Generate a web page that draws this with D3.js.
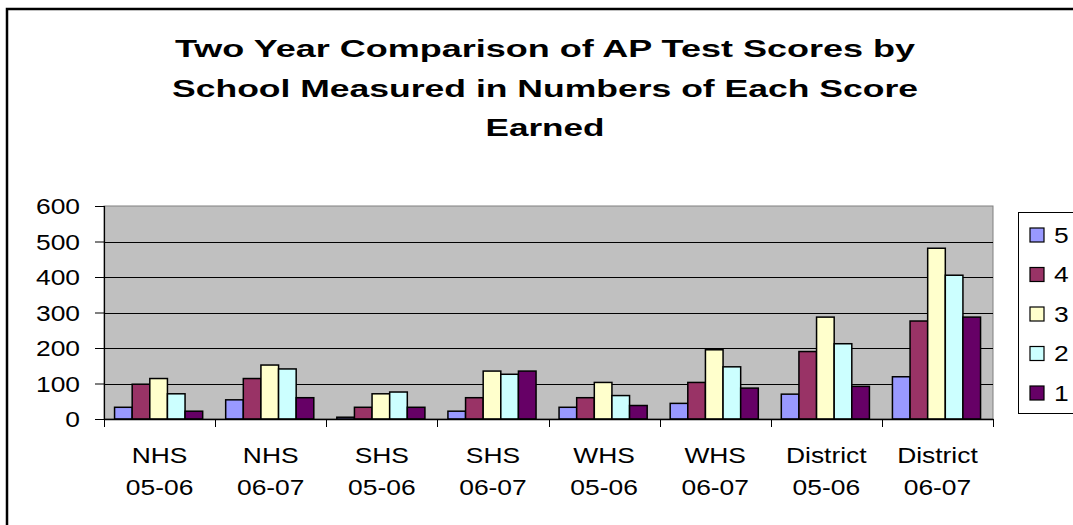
<!DOCTYPE html>
<html>
<head>
<meta charset="utf-8">
<script src="https://cdn.jsdelivr.net/npm/d3@7"></script>
<style>
  html, body { margin: 0; padding: 0; background: #fff; }
  svg { display: block; }
  text { font-family: Arial, "Liberation Sans", sans-serif; fill: #000; }
</style>
</head>
<body>
<svg id="chart" width="1073" height="525"></svg>
<script>
const categories = ["NHS 05-06", "NHS 06-07", "SHS 05-06", "SHS 06-07", "WHS 05-06", "WHS 06-07", "District 05-06", "District 06-07"];
const seriesNames = ["5", "4", "3", "2", "1"];
const score5 = [33, 54, 5, 22, 33, 44, 70, 119];
const score4 = [98, 114, 33, 60, 60, 103, 190, 276];
const score3 = [114, 152, 71, 135, 103, 195, 287, 481];
const score2 = [71, 141, 76, 126, 66, 147, 212, 405];
const score1 = [22, 60, 33, 135, 38, 87, 92, 287];
const yTicks = [0, 100, 200, 300, 400, 500, 600];
const titleLines = ["Two Year Comparison of AP Test Scores by", "School Measured in Numbers of Each Score", "Earned"];

const seriesValues = [score5, score4, score3, score2, score1];
const colors = ["#9999FF", "#993366", "#FFFFCC", "#CCFFFF", "#660066"];

const svg = d3.select("#chart");
const W = 1073, H = 525;
const plot = { left: 104, right: 993, top: 206, bottom: 419 };
const sx = 1.2; // horizontal text stretch in the reference

// outer chart border
svg.append("rect").attr("x", 7).attr("y", 9).attr("width", W + 10).attr("height", H + 10)
  .attr("fill", "#fff").attr("stroke", "#000").attr("stroke-width", 2.5);

// title
const titleW = [740, 746, 119];
const titleY = [57, 97, 136];
titleLines.forEach((t, i) => {
  svg.append("text").attr("x", 545).attr("y", titleY[i])
    .attr("text-anchor", "middle").attr("font-weight", "bold").attr("font-size", 23.5)
    .attr("textLength", titleW[i]).attr("lengthAdjust", "spacingAndGlyphs")
    .text(t);
});

const x0 = d3.scaleBand().domain(categories).range([plot.left, plot.right]).paddingInner(0).paddingOuter(0);
const bw = x0.bandwidth();
const x1 = d3.scaleBand().domain(seriesNames).range([bw * 0.095, bw * 0.888]).padding(0);
const y = d3.scaleLinear().domain([0, 600]).range([plot.bottom, plot.top]);

// plot background
svg.append("rect").attr("x", plot.left).attr("y", plot.top)
  .attr("width", plot.right - plot.left).attr("height", plot.bottom - plot.top)
  .attr("fill", "#C0C0C0").attr("stroke", "#808080").attr("stroke-width", 1);

// gridlines
svg.append("g").selectAll("line").data(yTicks.filter(d => d > 0 && d < 600)).join("line")
  .attr("x1", plot.left).attr("x2", plot.right)
  .attr("y1", d => Math.round(y(d)) + 0.5).attr("y2", d => Math.round(y(d)) + 0.5)
  .attr("stroke", "#000").attr("stroke-width", 1);

// bars
const groups = svg.append("g").selectAll("g").data(categories).join("g")
  .attr("transform", d => `translate(${x0(d)},0)`);
groups.selectAll("rect").data((c, ci) => seriesNames.map((s, si) => ({ s, si, v: seriesValues[si][ci] })))
  .join("rect")
  .attr("x", d => x1(d.s))
  .attr("y", d => y(d.v))
  .attr("width", x1.bandwidth())
  .attr("height", d => y(0) - y(d.v))
  .attr("fill", d => colors[d.si])
  .attr("stroke", "#000").attr("stroke-width", 1.5);

// y axis
const yAxis = svg.append("g").attr("transform", `translate(${plot.left},0)`)
  .call(d3.axisLeft(y).tickValues(yTicks).tickSize(9).tickPadding(0).tickFormat(d3.format("d")));
yAxis.select(".domain").attr("stroke", "#000").attr("stroke-width", 1.2);
yAxis.selectAll(".tick line").attr("stroke", "#000");
yAxis.selectAll(".tick text").remove();
yAxis.selectAll(".tick").append("text")
  .attr("text-anchor", "end").attr("font-size", 22).attr("dy", "0.36em")
  .attr("transform", `translate(-24,0) scale(${sx},1)`)
  .text(d => d);

// x axis
const xAxis = svg.append("g").attr("transform", `translate(0,${plot.bottom})`)
  .call(d3.axisBottom(x0).tickSize(0).tickFormat(""));
xAxis.select(".domain").attr("stroke", "#000").attr("stroke-width", 1.5);
xAxis.selectAll(".tick text").remove();
// category separator ticks
const bounds = d3.range(categories.length + 1).map(i => plot.left + i * bw);
svg.append("g").selectAll("line").data(bounds).join("line")
  .attr("x1", d => Math.round(d) + 0.5).attr("x2", d => Math.round(d) + 0.5)
  .attr("y1", plot.bottom).attr("y2", plot.bottom + 8)
  .attr("stroke", "#000").attr("stroke-width", 1);
const labels = svg.append("g").selectAll("g").data(categories).join("g")
  .attr("transform", d => `translate(${x0(d) + bw / 2},0)`);
labels.each(function (d) {
  const parts = d.split(" ");
  const g = d3.select(this);
  parts.forEach((p, i) => {
    g.append("text").attr("text-anchor", "middle").attr("font-size", 22)
      .attr("transform", `translate(0,${463 + i * 32}) scale(${sx},1)`)
      .text(p);
  });
});

// legend
svg.append("rect").attr("x", 1018.5).attr("y", 212.5).attr("width", 80).attr("height", 201)
  .attr("fill", "#fff").attr("stroke", "#000").attr("stroke-width", 1);
const leg = svg.append("g").selectAll("g").data(seriesNames).join("g")
  .attr("transform", (d, i) => `translate(1030,${235 + i * 39.5})`);
leg.append("rect").attr("x", 0).attr("y", -7).attr("width", 14).attr("height", 14)
  .attr("fill", (d, i) => colors[i]).attr("stroke", "#000").attr("stroke-width", 1.2);
leg.append("text").attr("font-size", 22).attr("dy", "0.36em")
  .attr("transform", `translate(24,0) scale(${sx},1)`)
  .text(d => d);
</script>
</body>
</html>
